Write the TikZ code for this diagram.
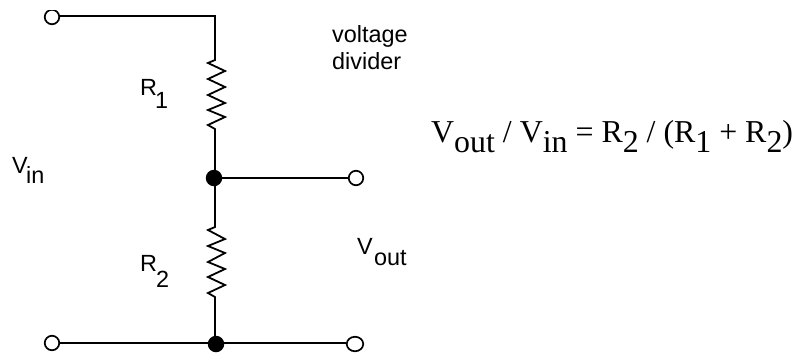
\documentclass[tikz,border=0pt]{standalone}
\usetikzlibrary{shapes.geometric}
\usepackage{fontspec}
\setmainfont{Liberation Sans}
\newfontfamily\serifface{Liberation Serif}
\newcommand{\eqsub}[1]{\raisebox{-10bp}{#1}}
\tikzset{
  wire/.style={line width=1.8bp,line join=miter},
  term/.style={ellipse,draw,fill=white,line width=1.7bp,minimum width=14.5bp,minimum height=14.5bp,inner sep=0pt},
  dot/.style={circle,fill=black,minimum size=16.5bp,inner sep=0pt},
  lab/.style={inner sep=0pt,anchor=base west,font=\fontsize{23.5}{26}\selectfont},
  eqn/.style={inner sep=0pt,anchor=base west,font=\serifface\fontsize{32}{35}\selectfont}
}
\begin{document}
\begin{tikzpicture}[x=1bp,y=-1bp]
\useasboundingbox (0,0) rectangle (796,354);
\coordinate (corner) at (215,16);
\coordinate (r1a) at (215,60);
\coordinate (r1b) at (215,129);
\coordinate (r2a) at (215,227);
\coordinate (r2b) at (215,297);
\node[dot] (mid) at (214,178) {};
\node[dot] (bot) at (216,344) {};
\begin{scope}
\clip (0,10) rectangle (796,354);
\node[term] (tin) at (52,17) {};
\end{scope}
\node[term] (tout) at (356,178) {};
\node[term] (bin) at (52,343) {};
\node[term,minimum width=16.5bp] (bout) at (355,344) {};
\draw[wire] (tin.east |- corner) -- (corner) -- (r1a) -- (208,63) -- (225,71) -- (208,79) -- (225,87) -- (208,95) -- (225,103) -- (208,110) -- (225,117) -- (208,125) -- (r1b) -- (215,170);
\draw[wire] (215,186) -- (r2a) -- (208,230) -- (225,239) -- (208,246) -- (225,253) -- (208,262) -- (225,269) -- (208,277) -- (225,285) -- (208,293) -- (r2b) -- (215,336);
\draw[wire] (mid) -- (tout);
\draw[wire] (bin.east |- 0,343) -- (bot.west |- 0,343) -- (bot.east |- 0,343) -- (bout.west |- 0,343);
\node[lab] (v1) at (332,42) {voltage};
\node[lab] (v2) at (332,69) {divider};
\node[lab] at (140,95) {R};
\node[lab] at (155,108) {1};
\node[lab] at (140,271) {R};
\node[lab] at (156,287) {2};
\node[lab] at (12,173) {V};
\node[lab] at (26,183) {in};
\node[lab] at (357,254) {V};
\node[lab] at (374,265) {out};
\node[eqn] at (431,142) {V\eqsub{out} / V\eqsub{in} = R\eqsub{2} / (R\eqsub{1} + R\eqsub{2})};
\end{tikzpicture}
\end{document}
